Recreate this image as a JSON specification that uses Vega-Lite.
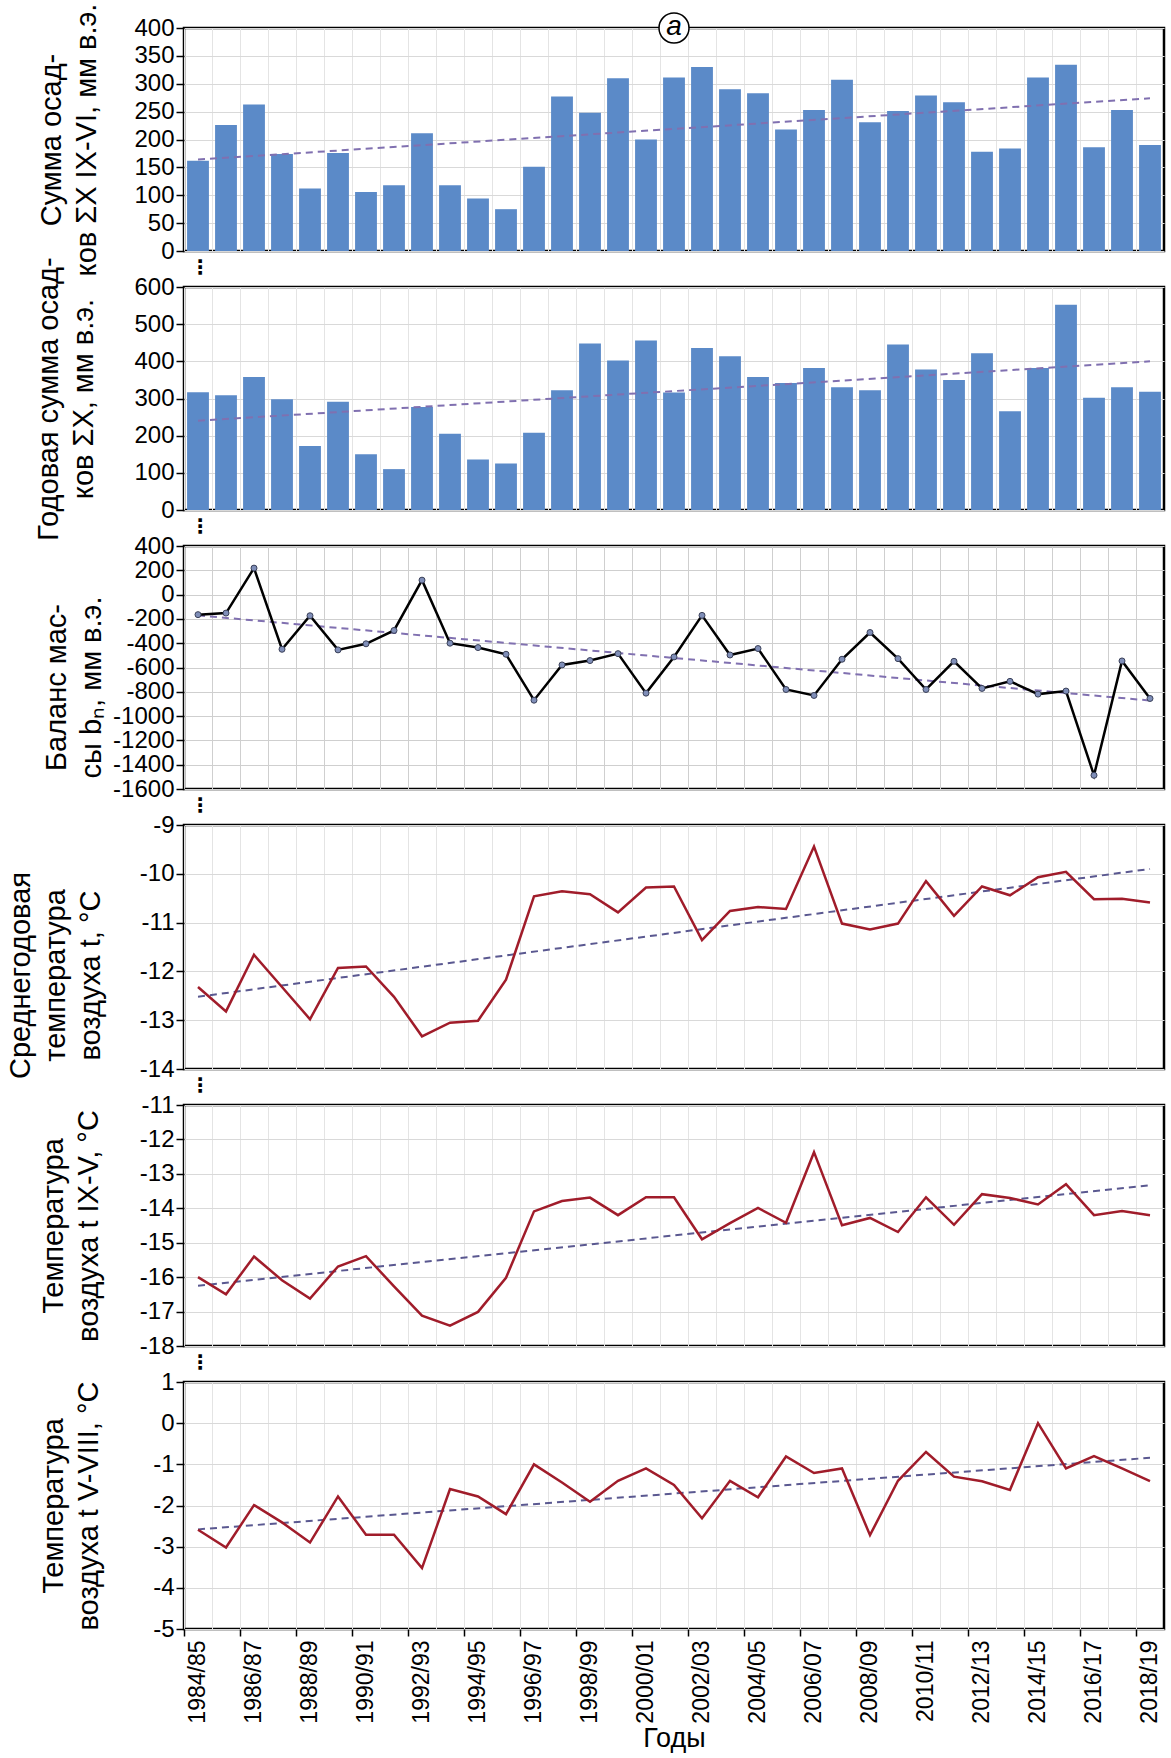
{
  "$schema": "https://vega.github.io/schema/vega-lite/v6.json",
  "background": "white",
  "padding": {"left": 4, "top": 1, "right": 2, "bottom": 2},
  "bounds": "flush",
  "spacing": 36,
  "config": {
    "font": "Liberation Sans",
    "view": {"stroke": "black", "strokeWidth": 2.5},
    "axis": {"labelFont": "Liberation Sans", "labelFontSize": 24, "labelColor": "black", "titleFont": "Liberation Sans", "titleFontSize": 29, "titleFontWeight": "normal", "titleColor": "black", "titleLineHeight": 35, "gridColor": "#d9d9d9", "gridWidth": 1, "tickColor": "black", "tickWidth": 1.5, "tickSize": 8, "domain": false}
  },
  "datasets": {
    "main": [
      {"year": "1984/85", "p1": 162, "p2": 317, "bal": -165, "tm": -12.32, "t1": -16.0, "t2": -2.59},
      {"year": "1985/86", "p1": 226, "p2": 309, "bal": -152, "tm": -12.82, "t1": -16.5, "t2": -3.02},
      {"year": "1986/87", "p1": 263, "p2": 358, "bal": 218, "tm": -11.66, "t1": -15.4, "t2": -1.99},
      {"year": "1987/88", "p1": 174, "p2": 298, "bal": -450, "tm": -12.32, "t1": -16.09, "t2": -2.41},
      {"year": "1988/89", "p1": 112, "p2": 172, "bal": -174, "tm": -12.98, "t1": -16.62, "t2": -2.9},
      {"year": "1989/90", "p1": 176, "p2": 291, "bal": -455, "tm": -11.93, "t1": -15.69, "t2": -1.78},
      {"year": "1990/91", "p1": 106, "p2": 150, "bal": -405, "tm": -11.9, "t1": -15.39, "t2": -2.71},
      {"year": "1991/92", "p1": 118, "p2": 110, "bal": -295, "tm": -12.52, "t1": -16.27, "t2": -2.71},
      {"year": "1992/93", "p1": 211, "p2": 277, "bal": 119, "tm": -13.33, "t1": -17.12, "t2": -3.52},
      {"year": "1993/94", "p1": 118, "p2": 205, "bal": -400, "tm": -13.05, "t1": -17.41, "t2": -1.6},
      {"year": "1994/95", "p1": 94, "p2": 136, "bal": -436, "tm": -13.01, "t1": -17.01, "t2": -1.78},
      {"year": "1995/96", "p1": 75, "p2": 125, "bal": -491, "tm": -12.17, "t1": -16.02, "t2": -2.21},
      {"year": "1996/97", "p1": 151, "p2": 208, "bal": -869, "tm": -10.46, "t1": -14.09, "t2": -1.0},
      {"year": "1997/98", "p1": 277, "p2": 322, "bal": -579, "tm": -10.36, "t1": -13.79, "t2": -1.44},
      {"year": "1998/99", "p1": 248, "p2": 448, "bal": -543, "tm": -10.42, "t1": -13.69, "t2": -1.91},
      {"year": "1999/00", "p1": 310, "p2": 402, "bal": -486, "tm": -10.79, "t1": -14.2, "t2": -1.4},
      {"year": "2000/01", "p1": 200, "p2": 456, "bal": -811, "tm": -10.28, "t1": -13.68, "t2": -1.1},
      {"year": "2001/02", "p1": 311, "p2": 316, "bal": -513, "tm": -10.26, "t1": -13.68, "t2": -1.5},
      {"year": "2002/03", "p1": 330, "p2": 436, "bal": -171, "tm": -11.36, "t1": -14.9, "t2": -2.31},
      {"year": "2003/04", "p1": 290, "p2": 414, "bal": -497, "tm": -10.76, "t1": -14.43, "t2": -1.4},
      {"year": "2004/05", "p1": 283, "p2": 358, "bal": -444, "tm": -10.68, "t1": -13.99, "t2": -1.8},
      {"year": "2005/06", "p1": 218, "p2": 342, "bal": -781, "tm": -10.72, "t1": -14.42, "t2": -0.81},
      {"year": "2006/07", "p1": 253, "p2": 382, "bal": -830, "tm": -9.44, "t1": -12.37, "t2": -1.21},
      {"year": "2007/08", "p1": 307, "p2": 330, "bal": -532, "tm": -11.02, "t1": -14.49, "t2": -1.1},
      {"year": "2008/09", "p1": 231, "p2": 322, "bal": -312, "tm": -11.14, "t1": -14.28, "t2": -2.72},
      {"year": "2009/10", "p1": 251, "p2": 445, "bal": -527, "tm": -11.02, "t1": -14.69, "t2": -1.4},
      {"year": "2010/11", "p1": 279, "p2": 378, "bal": -781, "tm": -10.15, "t1": -13.68, "t2": -0.7},
      {"year": "2011/12", "p1": 267, "p2": 350, "bal": -549, "tm": -10.86, "t1": -14.48, "t2": -1.3},
      {"year": "2012/13", "p1": 178, "p2": 422, "bal": -772, "tm": -10.26, "t1": -13.59, "t2": -1.41},
      {"year": "2013/14", "p1": 184, "p2": 266, "bal": -714, "tm": -10.44, "t1": -13.7, "t2": -1.62},
      {"year": "2014/15", "p1": 311, "p2": 382, "bal": -819, "tm": -10.07, "t1": -13.89, "t2": 0.0},
      {"year": "2015/16", "p1": 334, "p2": 552, "bal": -794, "tm": -9.96, "t1": -13.3, "t2": -1.1},
      {"year": "2016/17", "p1": 186, "p2": 302, "bal": -1487, "tm": -10.52, "t1": -14.2, "t2": -0.8},
      {"year": "2017/18", "p1": 253, "p2": 330, "bal": -546, "tm": -10.51, "t1": -14.08, "t2": -1.1},
      {"year": "2018/19", "p1": 190, "p2": 318, "bal": -855, "tm": -10.59, "t1": -14.2, "t2": -1.41}
    ],
    "trend": [
      {"year": "1984/85", "p1": 164, "p2": 240, "bal": -171, "tm": -12.52, "t1": -16.25, "t2": -2.58},
      {"year": "2018/19", "p1": 274, "p2": 400, "bal": -872, "tm": -9.9, "t1": -13.33, "t2": -0.84}
    ],
    "anno": [
      {"year": "2001/02", "p1": 400, "label": "a"}
    ]
  },
  "vconcat": [
    {
      "width": 980, "height": 223,
      "encoding": {
        "x": {"field": "year", "type": "ordinal", "scale": {"type": "band", "domain": ["1984/85","1985/86","1986/87","1987/88","1988/89","1989/90","1990/91","1991/92","1992/93","1993/94","1994/95","1995/96","1996/97","1997/98","1998/99","1999/00","2000/01","2001/02","2002/03","2003/04","2004/05","2005/06","2006/07","2007/08","2008/09","2009/10","2010/11","2011/12","2012/13","2013/14","2014/15","2015/16","2016/17","2017/18","2018/19"], "paddingInner": 0, "paddingOuter": 0},
          "axis": {"title": null, "bandPosition": 0, "ticks": false, "domain": false, "grid": true, "gridColor": "#e4e4e4", "labelExpr": "datum.value == '1984/85' ? '⋮' : ''", "labelAngle": 0, "labelAlign": "center", "labelBaseline": "top", "labelOffset": 2, "labelPadding": 6, "labelFont": "DejaVu Sans", "labelFontSize": 20, "labelFontWeight": "bold"}},
        "y": {"field": "p1", "type": "quantitative", "scale": {"domain": [0, 400], "nice": false},
          "axis": {"values": [0,50,100,150,200,250,300,350,400], "title": ["Сумма осад-", "ков ΣX IX-VI, мм в.э."], "titleX": -118, "labelExpr": "'' + datum.value", "labelPadding": 2}}
      },
      "layer": [
        {"data": {"name": "main"}, "mark": {"type": "bar", "color": "#5b8ac8", "width": {"band": 0.78}}},
        {"data": {"name": "trend"}, "mark": {"type": "line", "color": "#8070b0", "strokeWidth": 2, "strokeDash": [7, 5]}},
        {"data": {"name": "anno"}, "mark": {"type": "point", "shape": "circle", "filled": true, "fill": "white", "stroke": "black", "strokeWidth": 1.5, "size": 900, "opacity": 1}},
        {"data": {"name": "anno"}, "mark": {"type": "text", "fontStyle": "italic", "fontSize": 28, "font": "Liberation Sans", "color": "black", "baseline": "middle", "align": "center", "dy": -1}, "encoding": {"text": {"field": "label"}}}
      ]
    },
    {
      "width": 980, "height": 223,
      "encoding": {
        "x": {"field": "year", "type": "ordinal", "scale": {"type": "band", "domain": ["1984/85","1985/86","1986/87","1987/88","1988/89","1989/90","1990/91","1991/92","1992/93","1993/94","1994/95","1995/96","1996/97","1997/98","1998/99","1999/00","2000/01","2001/02","2002/03","2003/04","2004/05","2005/06","2006/07","2007/08","2008/09","2009/10","2010/11","2011/12","2012/13","2013/14","2014/15","2015/16","2016/17","2017/18","2018/19"], "paddingInner": 0, "paddingOuter": 0},
          "axis": {"title": null, "bandPosition": 0, "ticks": false, "domain": false, "grid": true, "gridColor": "#e4e4e4", "labelExpr": "datum.value == '1984/85' ? '⋮' : ''", "labelAngle": 0, "labelAlign": "center", "labelBaseline": "top", "labelOffset": 2, "labelPadding": 6, "labelFont": "DejaVu Sans", "labelFontSize": 20, "labelFontWeight": "bold"}},
        "y": {"field": "p2", "type": "quantitative", "scale": {"domain": [0, 600], "nice": false},
          "axis": {"values": [0,100,200,300,400,500,600], "title": ["Годовая сумма осад-", "ков ΣX, мм в.э."], "titleX": -121, "labelExpr": "'' + datum.value", "labelPadding": 2}}
      },
      "layer": [
        {"data": {"name": "main"}, "mark": {"type": "bar", "color": "#5b8ac8", "width": {"band": 0.78}}},
        {"data": {"name": "trend"}, "mark": {"type": "line", "color": "#8070b0", "strokeWidth": 2, "strokeDash": [7, 5]}}
      ]
    },
    {
      "width": 980, "height": 243,
      "encoding": {
        "x": {"field": "year", "type": "ordinal", "scale": {"type": "band", "domain": ["1984/85","1985/86","1986/87","1987/88","1988/89","1989/90","1990/91","1991/92","1992/93","1993/94","1994/95","1995/96","1996/97","1997/98","1998/99","1999/00","2000/01","2001/02","2002/03","2003/04","2004/05","2005/06","2006/07","2007/08","2008/09","2009/10","2010/11","2011/12","2012/13","2013/14","2014/15","2015/16","2016/17","2017/18","2018/19"], "paddingInner": 0, "paddingOuter": 0},
          "axis": {"title": null, "bandPosition": 0, "ticks": false, "domain": false, "grid": true, "gridColor": "#cfcfcf", "labelExpr": "datum.value == '1984/85' ? '⋮' : ''", "labelAngle": 0, "labelAlign": "center", "labelBaseline": "top", "labelOffset": 2, "labelPadding": 6, "labelFont": "DejaVu Sans", "labelFontSize": 20, "labelFontWeight": "bold"}},
        "y": {"field": "bal", "type": "quantitative", "scale": {"domain": [-1600, 400], "nice": false},
          "axis": {"values": [-1600,-1400,-1200,-1000,-800,-600,-400,-200,0,200,400], "title": ["Баланс мас-", "сы bₙ, мм в.э."], "titleX": -113, "titleY": 141, "gridColor": "#cfcfcf", "labelExpr": "'' + datum.value", "labelPadding": 2}}
      },
      "layer": [
        {"data": {"name": "trend"}, "mark": {"type": "line", "color": "#8070b0", "strokeWidth": 2, "strokeDash": [7, 5]}},
        {"data": {"name": "main"}, "mark": {"type": "line", "color": "black", "strokeWidth": 2.5}},
        {"data": {"name": "main"}, "mark": {"type": "point", "shape": "circle", "filled": true, "fill": "#7f8eb8", "stroke": "#3a4058", "strokeWidth": 1, "size": 36, "opacity": 1}}
      ]
    },
    {
      "width": 980, "height": 244,
      "encoding": {
        "x": {"field": "year", "type": "ordinal", "scale": {"type": "band", "domain": ["1984/85","1985/86","1986/87","1987/88","1988/89","1989/90","1990/91","1991/92","1992/93","1993/94","1994/95","1995/96","1996/97","1997/98","1998/99","1999/00","2000/01","2001/02","2002/03","2003/04","2004/05","2005/06","2006/07","2007/08","2008/09","2009/10","2010/11","2011/12","2012/13","2013/14","2014/15","2015/16","2016/17","2017/18","2018/19"], "paddingInner": 0, "paddingOuter": 0},
          "axis": {"title": null, "bandPosition": 0, "ticks": false, "domain": false, "grid": true, "gridColor": "#e4e4e4", "labelExpr": "datum.value == '1984/85' ? '⋮' : ''", "labelAngle": 0, "labelAlign": "center", "labelBaseline": "top", "labelOffset": 2, "labelPadding": 6, "labelFont": "DejaVu Sans", "labelFontSize": 20, "labelFontWeight": "bold"}},
        "y": {"field": "tm", "type": "quantitative", "scale": {"domain": [-14, -9], "nice": false, "zero": false},
          "axis": {"values": [-14,-13,-12,-11,-10,-9], "title": ["Среднегодовая", "температура", "воздуха t, °C"], "titleX": -149, "titleY": 150, "labelExpr": "'' + datum.value", "labelPadding": 2}}
      },
      "layer": [
        {"data": {"name": "trend"}, "mark": {"type": "line", "color": "#5a5890", "strokeWidth": 2, "strokeDash": [7, 5]}},
        {"data": {"name": "main"}, "mark": {"type": "line", "color": "#a01c2a", "strokeWidth": 2.5}}
      ]
    },
    {
      "width": 980, "height": 241,
      "encoding": {
        "x": {"field": "year", "type": "ordinal", "scale": {"type": "band", "domain": ["1984/85","1985/86","1986/87","1987/88","1988/89","1989/90","1990/91","1991/92","1992/93","1993/94","1994/95","1995/96","1996/97","1997/98","1998/99","1999/00","2000/01","2001/02","2002/03","2003/04","2004/05","2005/06","2006/07","2007/08","2008/09","2009/10","2010/11","2011/12","2012/13","2013/14","2014/15","2015/16","2016/17","2017/18","2018/19"], "paddingInner": 0, "paddingOuter": 0},
          "axis": {"title": null, "bandPosition": 0, "ticks": false, "domain": false, "grid": true, "gridColor": "#e4e4e4", "labelExpr": "datum.value == '1984/85' ? '⋮' : ''", "labelAngle": 0, "labelAlign": "center", "labelBaseline": "top", "labelOffset": 2, "labelPadding": 6, "labelFont": "DejaVu Sans", "labelFontSize": 20, "labelFontWeight": "bold"}},
        "y": {"field": "t1", "type": "quantitative", "scale": {"domain": [-18, -11], "nice": false, "zero": false},
          "axis": {"values": [-18,-17,-16,-15,-14,-13,-12,-11], "title": ["Температура", "воздуха t IX-V, °C"], "titleX": -116, "labelExpr": "'' + datum.value", "labelPadding": 2}}
      },
      "layer": [
        {"data": {"name": "trend"}, "mark": {"type": "line", "color": "#5a5890", "strokeWidth": 2, "strokeDash": [7, 5]}},
        {"data": {"name": "main"}, "mark": {"type": "line", "color": "#a01c2a", "strokeWidth": 2.5}}
      ]
    },
    {
      "width": 980, "height": 247,
      "encoding": {
        "x": {"field": "year", "type": "ordinal", "scale": {"type": "band", "domain": ["1984/85","1985/86","1986/87","1987/88","1988/89","1989/90","1990/91","1991/92","1992/93","1993/94","1994/95","1995/96","1996/97","1997/98","1998/99","1999/00","2000/01","2001/02","2002/03","2003/04","2004/05","2005/06","2006/07","2007/08","2008/09","2009/10","2010/11","2011/12","2012/13","2013/14","2014/15","2015/16","2016/17","2017/18","2018/19"], "paddingInner": 0, "paddingOuter": 0},
          "axis": {"title": "Годы", "titleFontSize": 27, "titlePadding": 2, "bandPosition": 0, "grid": true, "gridColor": "#e4e4e4", "domain": false, "ticks": true, "tickSize": 7, "tickOpacity": {"condition": {"test": "toNumber(substring(datum.value, 0, 4)) % 2 == 0", "value": 1}, "value": 0}, "labelExpr": "toNumber(substring(datum.value, 0, 4)) % 2 == 0 ? datum.value : ''", "labelAngle": 270, "labelFontSize": 23, "labelPadding": 4}},
        "y": {"field": "t2", "type": "quantitative", "scale": {"domain": [-5, 1], "nice": false, "zero": false},
          "axis": {"values": [-5,-4,-3,-2,-1,0,1], "title": ["Температура", "воздуха t V-VIII, °C"], "titleX": -116, "labelExpr": "'' + datum.value", "labelPadding": 2}}
      },
      "layer": [
        {"data": {"name": "trend"}, "mark": {"type": "line", "color": "#5a5890", "strokeWidth": 2, "strokeDash": [7, 5]}},
        {"data": {"name": "main"}, "mark": {"type": "line", "color": "#a01c2a", "strokeWidth": 2.5}}
      ]
    }
  ]
}
